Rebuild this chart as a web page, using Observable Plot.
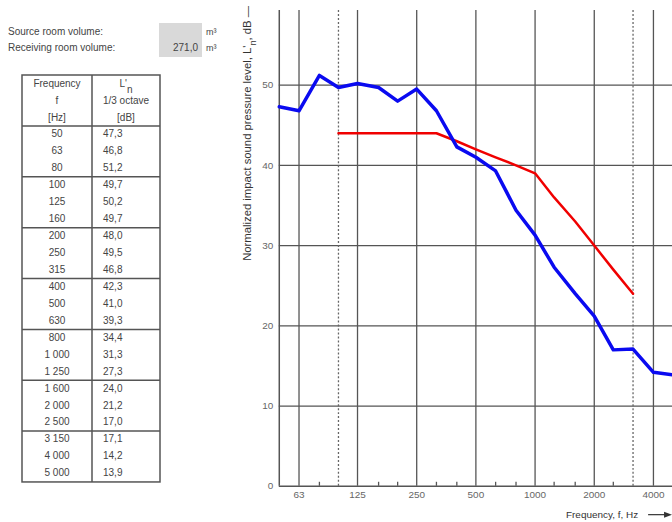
<!DOCTYPE html>
<html><head><meta charset="utf-8">
<script src="https://cdn.jsdelivr.net/npm/d3@7"></script>
<script src="https://cdn.jsdelivr.net/npm/@observablehq/plot@0.6"></script>
<style>
body{margin:0;background:#fff;}
#root{position:relative;width:672px;height:522px;overflow:hidden;background:#fff;font-family:"Liberation Sans",Arial,sans-serif;}
#left{position:absolute;left:0;top:0;}
#chart{position:absolute;left:230px;top:0;}
</style></head><body>
<div id="root"><svg id="left" width="230" height="522"></svg><div id="chart"></div></div>
<script>
// ---- data ----
const frequencies = [50,63,80,100,125,160,200,250,315,400,500,630,800,1000,1250,1600,2000,2500,3150,4000,5000];
const levels = [47.3,46.8,51.2,49.7,50.2,49.7,48.0,49.5,46.8,42.3,41.0,39.3,34.4,31.3,27.3,24.0,21.2,17.0,17.1,14.2,13.9];
const refFrequencies = [100,125,160,200,250,315,400,500,630,800,1000,1250,1600,2000,2500,3150];
const refLevels = [44,44,44,44,44,44,43,42,41,40,39,36,33,30,27,24];
const xTickLabels = [63,125,250,500,1000,2000,4000];
const dottedFreqs = [100,3150];
const minorTicks = [80,160,200,315,400,630,800,1250,1600,2500];
const yTicks = [0,10,20,30,40,50];
const receivingVolume = "271,0";
const headerCol1 = ["Frequency","f","[Hz]"];
const headerCol2 = ["1/3 octave","[dB]"];

// ---- chart ----
const measured = frequencies.map((f,i)=>({f, L: levels[i]}));
const reference = refFrequencies.map((f,i)=>({f, L: refLevels[i]}));
const gridColor = "#555";
const chart = Plot.plot({
  width: 444, height: 522,
  marginLeft: 49, marginRight: 0, marginTop: 10, marginBottom: 34,
  x: {type: "log", domain: [50, 5000], axis: null},
  y: {domain: [0, 59.3]},
  style: {fontFamily: "Liberation Sans, Arial, sans-serif", fontSize: "10px", color: "#666", background: "white", overflow: "visible"},
  marks: [
    Plot.ruleY(yTicks.filter(d => d > 0), {stroke: gridColor, strokeWidth: 1.3}),
    Plot.ruleX(xTickLabels, {stroke: gridColor, strokeWidth: 1.3}),
    Plot.ruleX(dottedFreqs, {stroke: "#666", strokeWidth: 1.3, strokeDasharray: "2,2"}),
    Plot.ruleX(minorTicks, {y1: 0, y2: 0.5, stroke: gridColor, strokeWidth: 1.3}),
    Plot.ruleY([0], {stroke: gridColor, strokeWidth: 1.5}),
    Plot.ruleX([50], {stroke: gridColor, strokeWidth: 1.5}),
    Plot.line(reference, {x: "f", y: "L", stroke: "#f00000", strokeWidth: 2.5}),
    Plot.line(measured, {x: "f", y: "L", stroke: "#0a0af0", strokeWidth: 3.5, strokeLinejoin: "round"}),
    Plot.text(xTickLabels, {x: d => d, frameAnchor: "bottom", lineAnchor: "top", dy: 5, text: d => String(d), fill: "#666", fontSize: 10}),
    Plot.axisY(yTicks, {tickSize: 0, tickPadding: 6, label: null})
  ]
});
document.getElementById("chart").appendChild(chart);

const cs = d3.select(chart);
const yl = cs.append("text")
  .attr("transform", "translate(17,262) rotate(-90)")
  .attr("dy", "0.35em")
  .attr("text-anchor", "start")
  .attr("textLength", 256).attr("lengthAdjust", "spacingAndGlyphs")
  .attr("fill", "#333").attr("font-size", 11);
yl.append("tspan").text("Normalized impact sound pressure level, L'");
yl.append("tspan").attr("baseline-shift", "sub").attr("font-size", 9).text("n");
yl.append("tspan").text(", dB —");

cs.append("text").attr("x", 410).attr("y", 520).attr("text-anchor", "end")
  .attr("fill", "#333").attr("font-size", 10).text("Frequency, f, Hz");
cs.append("line").attr("x1", 420).attr("x2", 438).attr("y1", 517).attr("y2", 517)
  .attr("stroke", "#333").attr("stroke-width", 1.2);
cs.append("path").attr("d", "M436,514L444,517L436,520Z").attr("fill", "#333");

// ---- left panel ----
const leftSvg = d3.select("#left");
const tc = "#444";
leftSvg.append("text").attr("x", 8).attr("y", 35).attr("fill", tc).attr("font-size", 10).text("Source room volume:");
leftSvg.append("text").attr("x", 8).attr("y", 51).attr("fill", tc).attr("font-size", 10).text("Receiving room volume:");
leftSvg.append("rect").attr("x", 159).attr("y", 23).attr("width", 43).attr("height", 34).attr("fill", "#d9d9d9");
leftSvg.append("text").attr("x", 198).attr("y", 51).attr("text-anchor", "end").attr("fill", tc).attr("font-size", 10).text(receivingVolume);
leftSvg.append("text").attr("x", 206).attr("y", 35).attr("fill", tc).attr("font-size", 9).text("m³");
leftSvg.append("text").attr("x", 206).attr("y", 51).attr("fill", tc).attr("font-size", 9).text("m³");

const tX0 = 22, tXm = 92, tX1 = 160, tTop = 75, tHb = 126, rowH = 16.95;
const tBottom = tHb + rowH * frequencies.length;
const fmtF = f => f >= 1000 ? `${Math.floor(f/1000)} ${String(f%1000).padStart(3,"0")}` : String(f);
const fmtL = v => v.toFixed(1).replace(".", ",");
const c1 = (tX0 + tXm) / 2, c2 = (tXm + tX1) / 2;
headerCol1.forEach((t, i) => leftSvg.append("text").attr("x", c1).attr("y", 86.5 + i * 17)
  .attr("text-anchor", "middle").attr("fill", tc).attr("font-size", 10).text(t));
const lh = leftSvg.append("text").attr("x", c2).attr("y", 86.5).attr("text-anchor", "middle").attr("fill", tc).attr("font-size", 10);
lh.append("tspan").text("L'");
lh.append("tspan").attr("baseline-shift", "sub").text("n");
headerCol2.forEach((t, i) => leftSvg.append("text").attr("x", c2).attr("y", 103.5 + i * 17)
  .attr("text-anchor", "middle").attr("fill", tc).attr("font-size", 10).text(t));
frequencies.forEach((f, i) => {
  const y = tHb + rowH * i + 7.8 + 3.5;
  leftSvg.append("text").attr("x", c1).attr("y", y).attr("text-anchor", "middle").attr("fill", tc).attr("font-size", 10).text(fmtF(f));
  leftSvg.append("text").attr("x", 103).attr("y", y).attr("fill", tc).attr("font-size", 10).text(fmtL(levels[i]));
});
leftSvg.append("rect").attr("x", tX0).attr("y", tTop).attr("width", tX1 - tX0).attr("height", tBottom - tTop)
  .attr("fill", "none").attr("stroke", "#555").attr("stroke-width", 1.5);
leftSvg.append("line").attr("x1", tXm).attr("x2", tXm).attr("y1", tTop).attr("y2", tBottom).attr("stroke", "#555").attr("stroke-width", 1.5);
for (let g = 0; g < frequencies.length; g += 3) {
  const y = tHb + rowH * g;
  leftSvg.append("line").attr("x1", tX0).attr("x2", tX1).attr("y1", y).attr("y2", y).attr("stroke", "#555").attr("stroke-width", 1.5);
}
</script>
</body></html>
